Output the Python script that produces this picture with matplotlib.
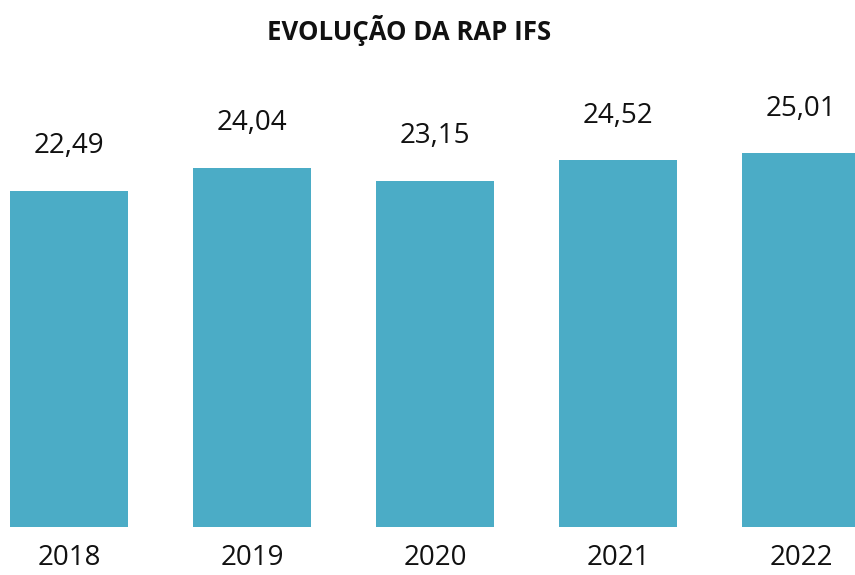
import matplotlib.pyplot as plt

# dados
anos = ['2018', '2019', '2020', '2021', '2022']
valores = [22.49, 24.04, 23.15, 24.52, 25.01]
rotulos = ['22,49', '24,04', '23,15', '24,52', '25,01']

COR_BARRA = '#4BACC6'
plt.rcParams['font.family'] = ['Open Sans', 'DejaVu Sans']

fig = plt.figure(figsize=(8.55, 5.75), dpi=100)
# eixo ocupa toda a largura; base das barras a 48 px do fundo
ax = fig.add_axes([0, 48 / 575, 1, 448.5 / 575])

x = list(range(len(anos)))
barras = ax.bar(x, valores, width=0.645, color=COR_BARRA)

for xi, v, r in zip(x, valores, rotulos):
    ax.annotate(r, (xi, v), xytext=(0, 27), textcoords='offset points',
                ha='center', va='baseline', fontsize=20, color='#111111')

ax.set_xlim(-69 / 183, 855 / 183 - 69 / 183)
ax.set_ylim(0, 30)
ax.set_xticks(x)
ax.set_xticklabels(anos, fontsize=20, color='#111111')
ax.tick_params(axis='x', length=0, pad=12)
ax.set_yticks([])
for s in ax.spines.values():
    s.set_visible(False)

fig.text(409 / 855, 1 - 31 / 575, 'EVOLUÇÃO DA RAP IFS', ha='center', va='center',
         fontsize=18.5, fontweight='bold', color='#111111')

fig.savefig('out.png', dpi=100)
plt.close()
